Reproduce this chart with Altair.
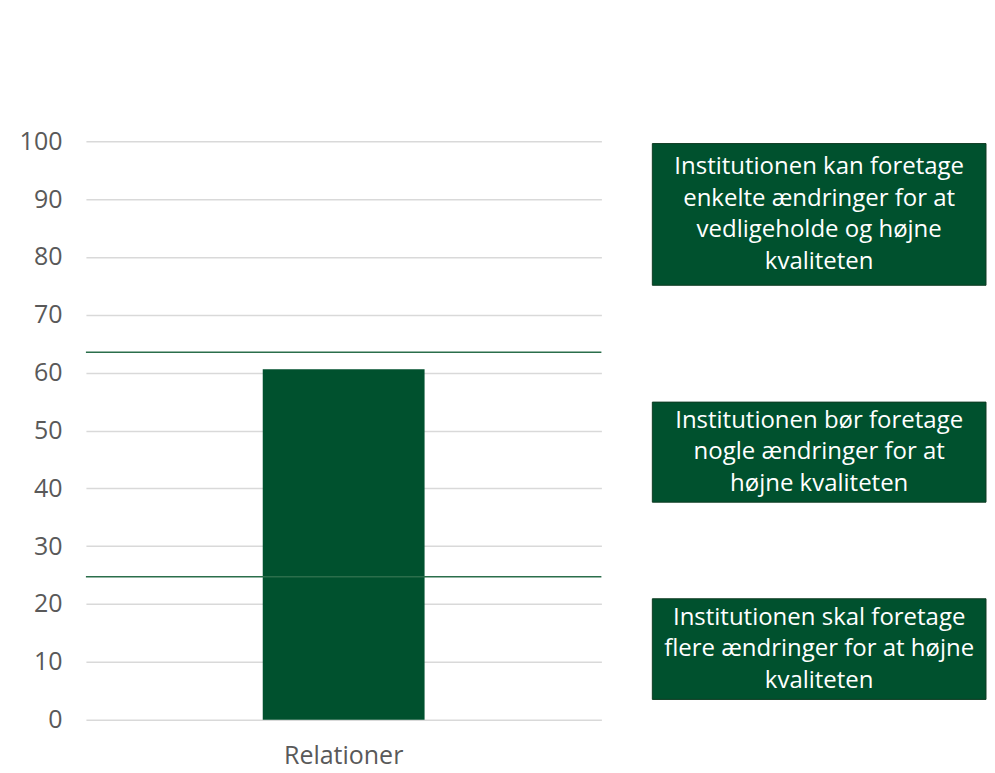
import altair as alt
import pandas as pd

categories = ["Relationer"]
values = [60.6]
thresholds = [24.7, 63.5]
box_texts = [
    "Institutionen kan foretage\nenkelte ændringer for at\nvedligeholde og højne\nkvaliteten",
    "Institutionen bør foretage\nnogle ændringer for at\nhøjne kvaliteten",
    "Institutionen skal foretage\nflere ændringer for at højne\nkvaliteten",
]
box_top = [99.6, 54.9, 20.9]
box_bottom = [75.1, 37.6, 3.5]

FONT = "Open Sans"
GREEN = "#00512e"
H = 579
LINE_H = 31.5
PX_PER_UNIT = H / 100

n_lines = [t.count("\n") + 1 for t in box_texts]
first_line = [(a + b) / 2 + (n - 1) / 2 * LINE_H / PX_PER_UNIT
              for a, b, n in zip(box_top, box_bottom, n_lines)]

bars = pd.DataFrame({"cat": categories, "val": values})
thr = pd.DataFrame({"t": thresholds})
boxes = pd.DataFrame({"txt": box_texts, "top": box_top, "bottom": box_bottom,
                      "first": first_line,
                      "x0": [0] * 3, "x1": [1] * 3, "xm": [0.5] * 3})

yscale = alt.Scale(domain=[0, 100], nice=False)

bar = alt.Chart(bars).mark_bar(size=162, color=GREEN).encode(
    x=alt.X("cat:N", title=None, sort=categories,
            axis=alt.Axis(labelAngle=0, labelFontSize=25, labelColor="#595959",
                          labelFont=FONT, labelPadding=24, domain=False, ticks=False, grid=False)),
    y=alt.Y("val:Q", title=None, scale=yscale,
            axis=alt.Axis(values=list(range(0, 101, 10)), labelFontSize=25, labelColor="#595959",
                          labelFont=FONT, labelPadding=24, domain=False, ticks=False,
                          grid=True, gridColor="#d9d9d9", gridWidth=1.5)),
)
rules = alt.Chart(thr).mark_rule(color="#2b6e4b", strokeWidth=1.5).encode(
    y=alt.Y("t:Q", scale=yscale)
)
left = alt.layer(bar, rules).properties(width=516, height=H)

rects = alt.Chart(boxes).mark_rect(color=GREEN, stroke="#0e3b22", strokeWidth=1).encode(
    x=alt.X("x0:Q", scale=alt.Scale(domain=[0, 1]), axis=None),
    x2="x1:Q",
    y=alt.Y("top:Q", scale=yscale, axis=None),
    y2="bottom:Q",
)
texts = alt.Chart(boxes).mark_text(color="white", fontSize=24, font=FONT, lineBreak="\n",
                                   lineHeight=LINE_H, align="center", baseline="middle").encode(
    x=alt.X("xm:Q", scale=alt.Scale(domain=[0, 1]), axis=None),
    y=alt.Y("first:Q", scale=yscale, axis=None),
    text="txt:N",
)
right = alt.layer(rects, texts).properties(width=334, height=H)

chart = alt.hconcat(left, right, spacing=49).properties(
    padding={"left": 11, "top": 121, "right": 0, "bottom": 2}
).configure(background="white", view=alt.ViewConfig(stroke="transparent", strokeWidth=0))

chart.save("out.html", embed_options={"renderer": "svg", "actions": False})
